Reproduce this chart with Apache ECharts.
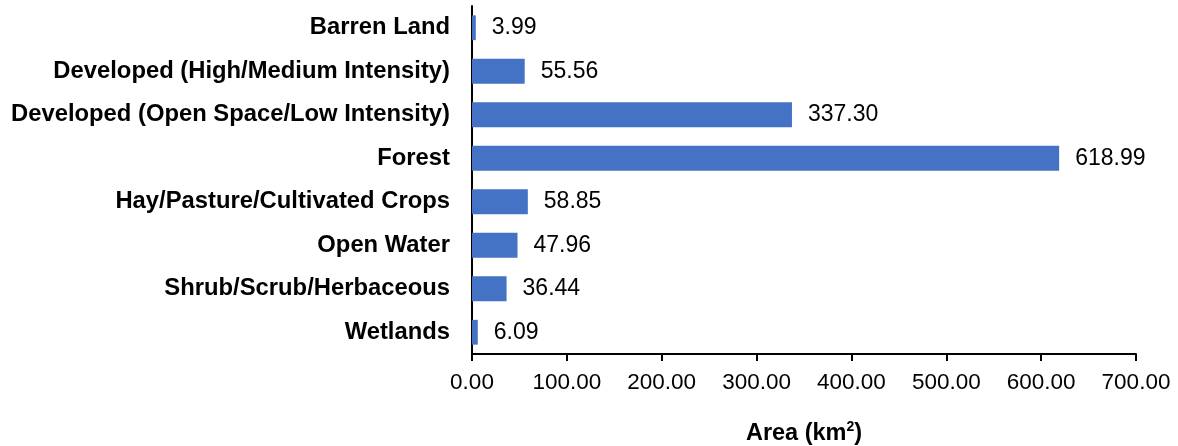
<!DOCTYPE html>
<html><head><meta charset="utf-8">
<script src="https://cdn.jsdelivr.net/npm/echarts@6/dist/echarts.min.js"></script>
<style>html,body{margin:0;padding:0;background:#fff}#c{width:1178px;height:446px}</style>
</head><body><div id="c"></div>
<script>
const categories = ["Barren Land","Developed (High/Medium Intensity)","Developed (Open Space/Low Intensity)","Forest","Hay/Pasture/Cultivated Crops","Open Water","Shrub/Scrub/Herbaceous","Wetlands"];
const values = [3.99,55.56,337.30,618.99,58.85,47.96,36.44,6.09];
const axisName = "{b|Area (km}{s|2}{b|)}";
const FF = 'Liberation Sans, Arial';
const chart = echarts.init(document.getElementById('c'));
chart.setOption({
  animation:false,
  grid:{left:472,right:42,top:6,bottom:92,containLabel:false,outerBoundsMode:'none'},
  xAxis:{type:'value',min:0,max:700,interval:100,
    name:axisName,nameLocation:'middle',nameGap:66,
    nameTextStyle:{rich:{
      b:{fontFamily:FF,fontSize:23.5,fontWeight:'bold',color:'#000',verticalAlign:'bottom',lineHeight:26},
      s:{fontFamily:FF,fontSize:14,fontWeight:'bold',color:'#000',verticalAlign:'top',lineHeight:26,padding:[0,0,8,0]}
    }},
    axisLine:{show:true,lineStyle:{color:'#000',width:2}},
    axisTick:{show:true,length:7,lineStyle:{color:'#000',width:2}},
    splitLine:{show:false},
    axisLabel:{fontFamily:FF,fontSize:22.5,color:'#000',margin:17,formatter:v=>v.toFixed(2)}
  },
  yAxis:{type:'category',data:categories,inverse:true,
    axisLine:{show:true,lineStyle:{color:'#000',width:2}},
    axisTick:{show:false},
    axisLabel:{fontFamily:FF,fontSize:23.8,fontWeight:'bold',color:'#000',margin:22}
  },
  series:[{type:'bar',data:values,barWidth:'57%',
    itemStyle:{color:'#4472C4'},
    label:{show:true,position:'right',distance:16,fontFamily:FF,fontSize:23,color:'#000',formatter:p=>p.value.toFixed(2)}
  }]
});
</script></body></html>
